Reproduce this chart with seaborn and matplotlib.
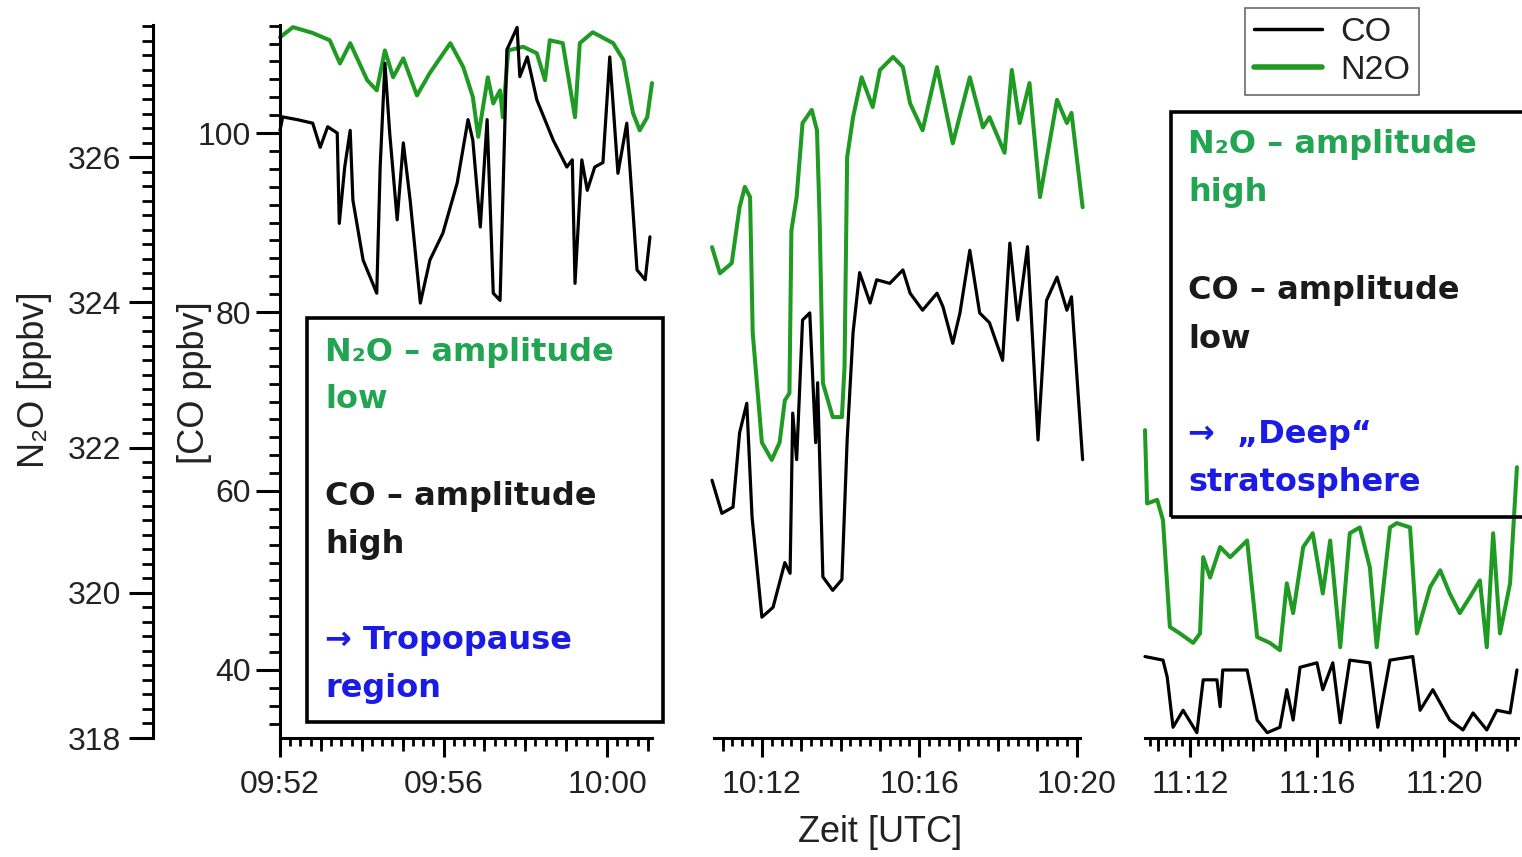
import numpy as np
import pandas as pd
import matplotlib
matplotlib.use("Agg")
import matplotlib.pyplot as plt
import matplotlib.dates as mdates
import seaborn as sns
from matplotlib.patches import Rectangle
from matplotlib.lines import Line2D
from matplotlib.ticker import MultipleLocator

sns.set_theme(style="white")
plt.rcParams["font.family"] = ["Liberation Sans", "DejaVu Sans"]

# ---------------- data ----------------
p1_n2o_time = ["09:52:00", "09:52:19", "09:52:48", "09:53:13", "09:53:28", "09:53:43", "09:54:08", "09:54:22",
               "09:54:34", "09:54:46", "09:55:01", "09:55:21", "09:55:40", "09:56:10", "09:56:29", "09:56:43",
               "09:56:51", "09:57:05", "09:57:13", "09:57:23", "09:57:27", "09:57:35", "09:57:57", "09:58:17",
               "09:58:29", "09:58:36", "09:58:55", "09:59:13", "09:59:20", "09:59:39", "10:00:09", "10:00:24",
               "10:00:38", "10:00:48", "10:00:59", "10:01:06"]
p1_n2o = [327.65, 327.79, 327.71, 327.61, 327.29, 327.57, 327.06, 326.92, 327.47, 327.10, 327.36, 326.85,
          327.16, 327.57, 327.24, 326.83, 326.28, 327.10, 326.74, 326.92, 326.55, 327.47, 327.52, 327.43,
          327.06, 327.61, 327.57, 326.55, 327.57, 327.72, 327.57, 327.34, 326.61, 326.37, 326.55, 327.02]

p1_co_time = ["09:52:00", "09:52:04", "09:52:25", "09:52:48", "09:52:59", "09:53:10", "09:53:24", "09:53:27",
              "09:53:35", "09:53:43", "09:53:47", "09:54:02", "09:54:22", "09:54:27", "09:54:34", "09:54:41",
              "09:54:52", "09:55:01", "09:55:11", "09:55:26", "09:55:40", "09:55:59", "09:56:20", "09:56:36",
              "09:56:43", "09:56:54", "09:57:04", "09:57:13", "09:57:23", "09:57:33", "09:57:48", "09:57:52",
              "09:58:03", "09:58:17", "09:58:41", "09:59:01", "09:59:09", "09:59:13", "09:59:23", "09:59:31",
              "09:59:42", "09:59:54", "10:00:04", "10:00:16", "10:00:29", "10:00:38", "10:00:44", "10:00:56",
              "10:01:03"]
p1_co = [100.3, 101.8, 101.5, 101.1, 98.4, 100.7, 100.0, 89.9, 96.2, 100.3, 92.5, 85.8, 82.1, 96.2, 107.8,
         100.0, 90.3, 98.9, 92.5, 81.0, 85.8, 88.8, 94.4, 101.5, 99.2, 89.5, 101.5, 82.1, 81.3, 109.3, 111.8,
         106.3, 108.5, 103.7, 99.2, 96.2, 97.0, 83.2, 97.0, 93.6, 96.2, 96.7, 108.5, 95.5, 101.1, 91.4, 84.7,
         83.6, 88.4]

p2_n2o_time = ["10:10:44", "10:10:56", "10:11:14", "10:11:26", "10:11:34", "10:11:42", "10:11:46", "10:12:00",
               "10:12:15", "10:12:27", "10:12:35", "10:12:42", "10:12:45", "10:12:53", "10:13:02", "10:13:16",
               "10:13:24", "10:13:28", "10:13:33", "10:13:48", "10:14:02", "10:14:06", "10:14:10", "10:14:19",
               "10:14:32", "10:14:49", "10:15:00", "10:15:20", "10:15:35", "10:15:46", "10:16:05", "10:16:27",
               "10:16:51", "10:17:17", "10:17:37", "10:17:47", "10:18:10", "10:18:21", "10:18:33", "10:18:48",
               "10:19:04", "10:19:30", "10:19:45", "10:19:52", "10:20:09"]
p2_n2o = [324.76, 324.40, 324.54, 325.31, 325.59, 325.45, 323.58, 322.07, 321.83, 322.07, 322.65, 322.75,
          324.99, 325.45, 326.47, 326.65, 326.37, 325.17, 322.89, 322.42, 322.42, 323.11, 326.00, 326.55,
          327.10, 326.69, 327.20, 327.38, 327.24, 326.74, 326.37, 327.24, 326.19, 327.10, 326.41, 326.55,
          326.06, 327.20, 326.47, 327.02, 325.45, 326.79, 326.47, 326.61, 325.31]

p2_co_time = ["10:10:44", "10:10:59", "10:11:16", "10:11:26", "10:11:37", "10:11:45", "10:12:00", "10:12:17",
              "10:12:35", "10:12:43", "10:12:47", "10:12:53", "10:13:02", "10:13:13", "10:13:22", "10:13:25",
              "10:13:33", "10:13:48", "10:14:02", "10:14:10", "10:14:19", "10:14:29", "10:14:45", "10:14:55",
              "10:15:15", "10:15:35", "10:15:46", "10:16:05", "10:16:27", "10:16:36", "10:16:51", "10:17:02",
              "10:17:17", "10:17:32", "10:17:47", "10:18:07", "10:18:18", "10:18:30", "10:18:45", "10:19:01",
              "10:19:14", "10:19:30", "10:19:45", "10:19:52", "10:20:09"]
p2_co = [61.2, 57.5, 58.2, 66.5, 69.8, 57.1, 45.9, 47.0, 52.0, 50.8, 68.7, 63.5, 79.1, 79.9, 65.4, 72.1,
         50.4, 48.9, 50.1, 65.7, 77.7, 84.4, 81.0, 83.6, 83.2, 84.7, 82.1, 80.2, 82.1, 80.6, 76.5, 79.9,
         86.9, 79.9, 78.8, 74.6, 87.7, 79.1, 87.3, 65.7, 81.3, 83.9, 80.2, 81.7, 63.5]

p3_n2o_time = ["11:10:35", "11:10:39", "11:10:58", "11:11:09", "11:11:22", "11:11:41", "11:12:06", "11:12:19",
               "11:12:25", "11:12:38", "11:12:57", "11:13:16", "11:13:48", "11:14:07", "11:14:31", "11:14:50",
               "11:15:03", "11:15:15", "11:15:34", "11:15:52", "11:16:11", "11:16:25", "11:16:44", "11:17:02",
               "11:17:21", "11:17:40", "11:17:53", "11:18:18", "11:18:31", "11:18:56", "11:19:09", "11:19:34",
               "11:19:53", "11:20:11", "11:20:30", "11:20:49", "11:21:08", "11:21:21", "11:21:33", "11:21:46",
               "11:22:05", "11:22:18"]
p3_n2o = [322.24, 321.23, 321.28, 321.00, 319.53, 319.44, 319.31, 319.44, 320.49, 320.21, 320.63, 320.49,
          320.72, 319.39, 319.31, 319.21, 320.13, 319.72, 320.63, 320.82, 319.99, 320.72, 319.25, 320.82,
          320.90, 320.35, 319.25, 320.90, 320.96, 320.90, 319.44, 320.08, 320.31, 319.99, 319.72, 319.94,
          320.17, 319.25, 320.82, 319.44, 320.13, 321.73]

p3_co_time = ["11:10:35", "11:11:09", "11:11:17", "11:11:28", "11:11:47", "11:12:13", "11:12:25", "11:12:51",
              "11:12:57", "11:13:02", "11:13:48", "11:14:07", "11:14:26", "11:14:50", "11:15:03", "11:15:15",
              "11:15:28", "11:16:00", "11:16:11", "11:16:30", "11:16:44", "11:17:02", "11:17:40", "11:17:55",
              "11:18:18", "11:19:01", "11:19:15", "11:19:39", "11:20:11", "11:20:36", "11:20:55", "11:21:21",
              "11:21:40", "11:22:05", "11:22:18"]
p3_co = [41.5, 41.1, 39.2, 33.6, 35.5, 33.0, 38.9, 38.9, 35.9, 40.0, 40.0, 34.4, 33.0, 33.6, 37.8, 34.4,
         40.3, 40.8, 37.8, 40.8, 34.1, 41.1, 40.8, 33.6, 41.1, 41.5, 35.5, 37.8, 34.4, 33.3, 35.2, 33.3,
         35.5, 35.2, 40.0]

panel_xlim = [("09:52:00", "10:01:06"), ("10:10:47", "10:20:05"), ("11:10:35", "11:22:20")]
co_ylim = (32.4, 112.07)
n2o_ylim = (318.0, 327.82)

legend_labels = ["CO", "N2O"]
box_left = ["N\u2082O \u2013 amplitude", "low", "", "CO \u2013 amplitude", "high", "",
            "\u2192 Tropopause", "region"]
box_right = ["N\u2082O \u2013 amplitude", "high", "", "CO \u2013 amplitude", "low", "",
             "\u2192  \u201eDeep\u201c", "stratosphere"]

# ---------------- styling ----------------
W, H = 1522, 857
LINE_GREEN = "#1f9a22"
TEXT_GREEN = "#22a552"
TEXT_BLUE = "#1b1be6"
box_colors = [TEXT_GREEN, TEXT_GREEN, None, "#1a1a1a", "#1a1a1a", None, TEXT_BLUE, TEXT_BLUE]


def fx(x):
    return x / W


def fy(y):
    return 1 - y / H


def tt(s):
    return pd.to_datetime("2000-01-01 " + s)


def ts(lst):
    return pd.to_datetime(["2000-01-01 " + s for s in lst])


fig = plt.figure(figsize=(W / 100, H / 100), dpi=100)
fig.patch.set_facecolor("white")

TOP, BOT = 25, 738
panel_px = [(280, 652), (714, 1080), (1145, 1518)]
data = [(p1_co_time, p1_co, p1_n2o_time, p1_n2o),
        (p2_co_time, p2_co, p2_n2o_time, p2_n2o),
        (p3_co_time, p3_co, p3_n2o_time, p3_n2o)]

TICK_FS = 23
SPINE_W = 2.2

for i, ((x0, x1), (xl0, xl1), (cot, co, nt, nv)) in enumerate(zip(panel_px, panel_xlim, data)):
    ax = fig.add_axes([fx(x0), fy(BOT), (x1 - x0) / W, (BOT - TOP) / H])
    ax2 = ax.twinx()
    ax.set_zorder(ax2.get_zorder() + 1)
    ax.patch.set_visible(False)

    sns.lineplot(x=ts(nt), y=nv, ax=ax2, color=LINE_GREEN, linewidth=2.9,
                 estimator=None, sort=False, legend=False)
    sns.lineplot(x=ts(cot), y=co, ax=ax, color="black", linewidth=2.3,
                 estimator=None, sort=False, legend=False)
    for ln in ax.get_lines() + ax2.get_lines():
        ln.set_clip_on(False)

    ax.set_xlim(tt(xl0), tt(xl1))
    ax.set_ylim(*co_ylim)
    ax2.set_ylim(*n2o_ylim)
    ax.set_xlabel("")
    ax.set_ylabel("")
    ax2.set_xlabel("")
    ax2.set_ylabel("")

    for sp in ["top", "right"]:
        ax.spines[sp].set_visible(False)
    for sp in ["top", "right", "bottom", "left"]:
        ax2.spines[sp].set_visible(False)
    ax.spines["bottom"].set_linewidth(SPINE_W)
    ax.spines["bottom"].set_color("black")

    # x ticks: 4-minute labels, 15-second minor ticks, minute ticks slightly longer
    ax.xaxis.set_major_locator(mdates.MinuteLocator(byminute=range(0, 60, 4)))
    ax.xaxis.set_major_formatter(mdates.DateFormatter("%H:%M"))
    ax.xaxis.set_minor_locator(mdates.SecondLocator(bysecond=[0, 15, 30, 45]))
    ax.tick_params(axis="x", which="major", direction="out", length=14, width=2.2,
                   labelsize=TICK_FS, pad=9, colors="black", labelcolor="#222222", bottom=True)
    ax.tick_params(axis="x", which="minor", direction="out", length=6, width=2.0,
                   colors="black", bottom=True)
    try:
        sec = ax.secondary_xaxis("bottom")
        sec.xaxis.set_major_locator(mdates.MinuteLocator())
        sec.tick_params(axis="x", which="major", direction="out", length=9, width=2.0,
                        labelbottom=False, colors="black")
        sec.xaxis.set_minor_locator(matplotlib.ticker.NullLocator())
        sec.spines["bottom"].set_visible(False)
        sec.set_xlabel("")
    except Exception:
        pass

    if i == 0:
        ax.spines["left"].set_linewidth(SPINE_W)
        ax.spines["left"].set_color("black")
        ax.yaxis.set_major_locator(MultipleLocator(20))
        ax.yaxis.set_minor_locator(MultipleLocator(2))
        ax.tick_params(axis="y", which="major", direction="out", length=17, width=2.2,
                       labelsize=TICK_FS, pad=4, colors="black", labelcolor="#222222", left=True)
        ax.tick_params(axis="y", which="minor", direction="out", length=8, width=2.0,
                       colors="black", left=True)

        ax2.spines["left"].set_visible(True)
        ax2.spines["left"].set_position(("outward", 127 * 0.72))
        ax2.spines["left"].set_linewidth(SPINE_W)
        ax2.spines["left"].set_color("black")
        ax2.yaxis.tick_left()
        ax2.yaxis.set_major_locator(MultipleLocator(2))
        ax2.yaxis.set_minor_locator(MultipleLocator(0.2))
        ax2.tick_params(axis="y", which="major", direction="out", length=17, width=2.2,
                        labelsize=TICK_FS, pad=6, colors="black", labelcolor="#222222",
                        left=True, right=False, labelleft=True, labelright=False)
        ax2.tick_params(axis="y", which="minor", direction="out", length=8, width=2.0,
                        colors="black", left=True, right=False)
    else:
        ax.spines["left"].set_visible(False)
        ax.tick_params(axis="y", which="both", left=False, labelleft=False)
        ax2.tick_params(axis="y", which="both", left=False, right=False,
                        labelleft=False, labelright=False)

# axis labels
fig.text(fx(35), fy(380), "N\u2082O [ppbv]", rotation=90, ha="center", va="center",
         fontsize=26, color="#222222")
fig.text(fx(195), fy(383), "[CO ppbv]", rotation=90, ha="center", va="center",
         fontsize=26, color="#222222")
fig.text(fx(880), fy(832), "Zeit [UTC]", ha="center", va="center", fontsize=26, color="#222222")

# annotation boxes
fig.patches.append(Rectangle((fx(307), fy(722)), (663 - 307) / W, (722 - 318) / H,
                             transform=fig.transFigure, fill=False, lw=2.6, ec="black", zorder=1))
fig.patches.append(Rectangle((fx(1171), fy(517)), (1560 - 1171) / W, (517 - 112) / H,
                             transform=fig.transFigure, fill=False, lw=2.6, ec="black", zorder=1))

left_y = [352, 399, None, 497, 545, None, 641, 689]
right_y = [145, 193, None, 291, 339, None, 435, 483]
for s, c, yl in zip(box_left, box_colors, left_y):
    if s:
        fig.text(fx(325), fy(yl), s, color=c, fontsize=23, fontweight="bold",
                 family=["DejaVu Sans"], ha="left", va="center")
for s, c, yr in zip(box_right, box_colors, right_y):
    if s:
        fig.text(fx(1188), fy(yr), s, color=c, fontsize=23, fontweight="bold",
                 family=["DejaVu Sans"], ha="left", va="center")

# legend
handles = [Line2D([], [], color="black", lw=2.5), Line2D([], [], color=LINE_GREEN, lw=4)]
leg = fig.legend(handles, legend_labels, loc="upper left", bbox_to_anchor=(fx(1245), fy(8)),
                 frameon=True, fancybox=False, fontsize=24.5, handlelength=2.0, handletextpad=0.55,
                 labelspacing=0.22, borderpad=0.25, borderaxespad=0)
leg.get_frame().set_edgecolor("#444444")
leg.get_frame().set_linewidth(1.2)
for t in leg.get_texts():
    t.set_color("#222222")

fig.savefig("out.png", dpi=100, facecolor="white")
